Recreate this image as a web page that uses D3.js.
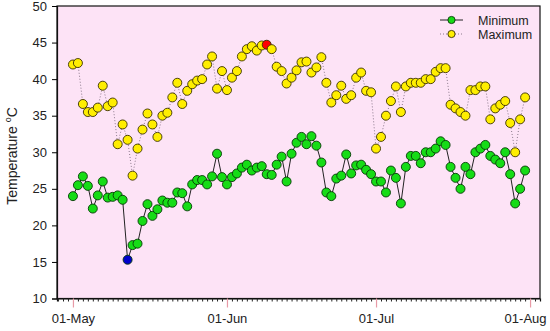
<!DOCTYPE html>
<html>
<head>
<meta charset="utf-8">
<script src="https://cdn.jsdelivr.net/npm/d3@7"></script>
<style>
  body { margin: 0; background: #fff; }
  svg { display: block; font-family: "Liberation Sans", Arial, sans-serif; }
</style>
</head>
<body>
<svg width="550" height="331"></svg>
<script>
// daily readings, 01-May to 31-Jul
var startDay = new Date(Date.UTC(2021, 4, 1));
var endDay = new Date(Date.UTC(2021, 7, 1));

var minTemp = [
  24.0, 25.5, 26.7, 25.4, 22.3, 24.1, 26.0, 23.8, 23.9, 24.1,
  23.5, 15.3, 17.3, 17.5, 20.6, 22.9, 21.3, 22.2, 23.4, 23.1,
  23.1, 24.5, 24.4, 22.6, 25.6, 26.2, 26.2, 25.6, 26.7, 29.8,
  26.6, 25.6, 26.6, 27.1, 27.9, 28.3, 27.5, 27.9, 28.1, 27.0,
  26.9, 28.3, 29.4, 26.0, 29.8, 31.3, 32.1, 31.1, 32.2, 30.9,
  28.6, 24.5, 24.0, 26.4, 26.8, 29.7, 27.1, 28.2, 28.3, 27.6,
  27.0, 26.0, 26.0, 24.5, 27.5, 26.5, 23.0, 28.0, 29.5, 29.5,
  28.5, 30.0, 30.0, 30.5, 31.5, 31.0, 28.0, 26.5, 25.0, 28.0,
  27.0, 30.0, 30.5, 31.0, 29.5, 29.0, 28.5, 30.0, 27.0, 23.0,
  25.0, 27.5
];

var maxTemp = [
  42.0, 42.2, 36.6, 35.5, 35.5, 36.1, 39.1, 36.3, 36.8, 31.1,
  33.8, 31.7, 26.8, 30.5, 33.1, 35.3, 33.8, 32.1, 35.0, 35.4,
  37.5, 39.5, 36.6, 38.4, 39.3, 39.8, 40.0, 42.0, 43.1, 38.7,
  41.1, 38.5, 40.2, 41.1, 43.1, 44.1, 44.5, 43.9, 44.6, 44.7,
  44.1, 41.7, 41.1, 39.4, 40.2, 41.2, 42.3, 42.4, 40.9, 41.6,
  43.0, 39.5, 36.8, 37.8, 39.1, 37.3, 37.8, 40.2, 40.9, 38.4,
  38.2, 30.5, 32.1, 35.0, 37.0, 39.0, 35.5, 39.0, 39.5, 39.5,
  39.5, 40.0, 40.0, 41.0, 41.5, 41.5, 36.5, 36.0, 35.5, 35.0,
  38.5, 38.5, 39.0, 39.0, 34.5, 36.0, 36.5, 37.0, 34.0, 30.0,
  34.5, 37.5
];

var yTicks = [10, 15, 20, 25, 30, 35, 40, 45, 50];
var seriesNames = ["Minimum", "Maximum"];

var days = d3.utcDay.range(startDay, endDay);
var minData = days.map(function(d, i) { return { date: d, value: minTemp[i] }; });
var maxData = days.map(function(d, i) { return { date: d, value: maxTemp[i] }; });

var plotL = 57, plotR = 540, plotT = 6, plotB = 298.5;

var svg = d3.select("svg");

var x = d3.scaleUtc()
    .domain([d3.utcHour.offset(startDay, -77), d3.utcDay.offset(endDay, 2)])
    .range([plotL, plotR]);

var y = d3.scaleLinear()
    .domain([10, 50])
    .range([plotB, plotT]);

// plot background
svg.append("rect")
    .attr("x", plotL).attr("y", plotT)
    .attr("width", plotR - plotL).attr("height", plotB - plotT)
    .attr("fill", "#fde3f6")
    .attr("stroke", "#111")
    .attr("stroke-width", 1.2);

// y axis
var yAxis = svg.append("g")
    .attr("transform", "translate(" + plotL + ",0)")
    .call(d3.axisLeft(y).tickValues(yTicks).tickSize(5).tickPadding(5));
yAxis.select(".domain").attr("stroke", "#111").attr("stroke-width", 1.2);
yAxis.selectAll("text").attr("font-size", 13).attr("fill", "#222")
    .attr("font-family", "'Liberation Sans', Arial, sans-serif");

// x axis: daily minor ticks, monthly red ticks
var dayTicks = d3.utcDay.range(d3.utcDay.ceil(x.domain()[0]), x.domain()[1])
    .filter(function(d) { return d.getUTCDate() !== 1; });
var xMinor = svg.append("g")
    .attr("transform", "translate(0," + plotB + ")")
    .call(d3.axisBottom(x).tickValues(dayTicks).tickSize(3).tickFormat(""));
xMinor.select(".domain").attr("stroke", "#111").attr("stroke-width", 1.2);
xMinor.selectAll(".tick line").attr("stroke", "#222");

var monthTicks = d3.utcMonth.range(startDay, d3.utcDay.offset(endDay, 1));
var xMajor = svg.append("g")
    .attr("transform", "translate(0," + plotB + ")")
    .call(d3.axisBottom(x).tickValues(monthTicks).tickSize(9).tickPadding(6)
      .tickFormat(d3.utcFormat("%d-%b")));
xMajor.select(".domain").remove();
xMajor.selectAll(".tick line").attr("stroke", "#e89aa6").attr("stroke-width", 1.2);
xMajor.selectAll("text").attr("font-size", 13).attr("fill", "#222")
    .attr("font-family", "'Liberation Sans', Arial, sans-serif");
// keep the last month label inside the picture
xMajor.selectAll("text").filter(function(d, i, n) { return i === n.length - 1; })
    .attr("dx", -5);

// y label
var yLabel = svg.append("text")
    .attr("transform", "translate(17,156) rotate(-90)")
    .attr("text-anchor", "middle")
    .attr("font-size", 14)
    .attr("fill", "#222");
yLabel.append("tspan").text("Temperature ");
yLabel.append("tspan").attr("font-size", 9).attr("dy", -6).text("o");
yLabel.append("tspan").attr("dy", 6).text("C");

var line = d3.line()
    .x(function(d) { return x(d.date); })
    .y(function(d) { return y(d.value); });

svg.append("path")
    .datum(maxData)
    .attr("fill", "none")
    .attr("stroke", "#8c7a8c")
    .attr("stroke-width", 1)
    .attr("stroke-dasharray", "1,2")
    .attr("d", line);

svg.append("path")
    .datum(minData)
    .attr("fill", "none")
    .attr("stroke", "#222")
    .attr("stroke-width", 1)
    .attr("d", line);

var hiIdx = d3.maxIndex(maxTemp);
var loIdx = d3.minIndex(minTemp);

svg.append("g").selectAll("circle")
    .data(maxData)
    .enter().append("circle")
    .attr("cx", function(d) { return x(d.date); })
    .attr("cy", function(d) { return y(d.value); })
    .attr("r", 4.5)
    .attr("fill", function(d, i) { return i === hiIdx ? "#ff0000" : "#ffee00"; })
    .attr("stroke", "#3a3000")
    .attr("stroke-width", 0.9);

svg.append("g").selectAll("circle")
    .data(minData)
    .enter().append("circle")
    .attr("cx", function(d) { return x(d.date); })
    .attr("cy", function(d) { return y(d.value); })
    .attr("r", 4.5)
    .attr("fill", function(d, i) { return i === loIdx ? "#0000cc" : "#16dc16"; })
    .attr("stroke", "#063806")
    .attr("stroke-width", 0.9);

// legend
var legend = svg.append("g");
seriesNames.forEach(function(name, i) {
  var ly = 20 + i * 14;
  legend.append("line")
      .attr("x1", 440).attr("x2", 463).attr("y1", ly).attr("y2", ly)
      .attr("stroke", i === 0 ? "#222" : "#8c7a8c")
      .attr("stroke-dasharray", i === 0 ? null : "1,2");
  legend.append("circle")
      .attr("cx", 451.5).attr("cy", ly).attr("r", 3.6)
      .attr("fill", i === 0 ? "#16dc16" : "#ffee00")
      .attr("stroke", i === 0 ? "#063806" : "#3a3000")
      .attr("stroke-width", 0.9);
  legend.append("text")
      .attr("x", 478).attr("y", ly + 4.5)
      .attr("font-size", 12.5)
      .attr("fill", "#222")
      .text(name);
});
</script>
</body>
</html>
